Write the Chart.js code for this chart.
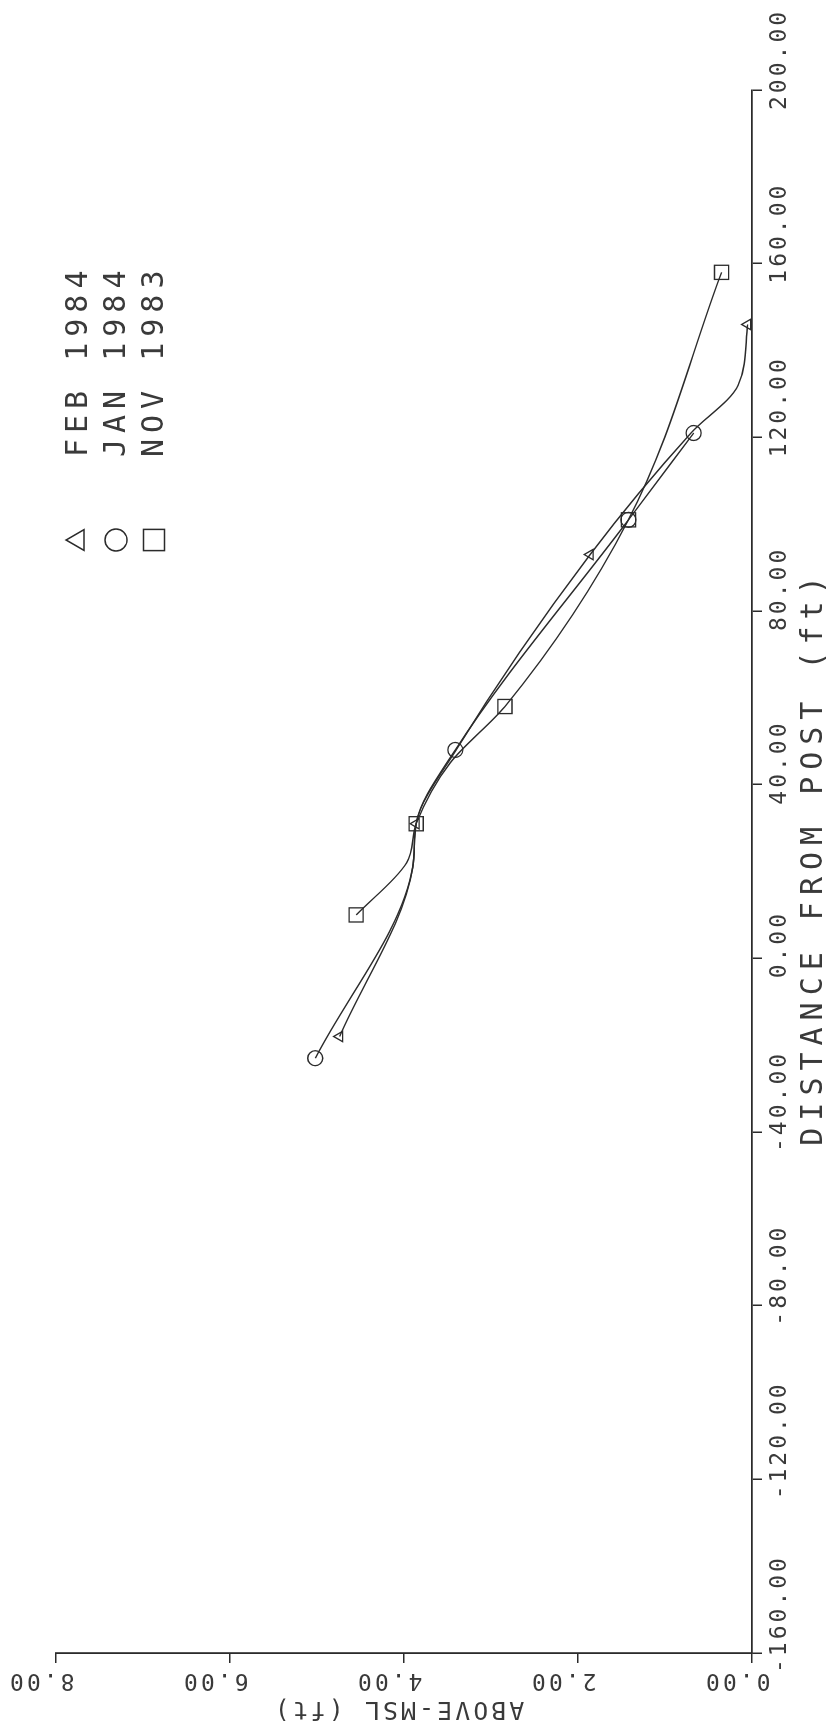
<!DOCTYPE html>
<html>
<head>
<meta charset="utf-8">
<title>POST NO. 7</title>
<script src="https://cdn.jsdelivr.net/npm/chart.js@4.4.0/dist/chart.umd.min.js"></script>
<style>
    html, body { margin: 0; padding: 0; background: #fff; overflow: hidden; }
    /* o gráfico original foi digitalizado girado 90° (anti-horário) */
    #wrap {
        position: absolute;
        left: 0;
        top: 0;
        width: 1734px;
        height: 830px;
        transform-origin: 0 0;
        transform: translateY(1734px) rotate(-90deg);
    }
</style>
</head>
<body>
<div id="wrap"><canvas id="profile" width="1734" height="830"></canvas></div>
<script>
// Perfil de praia - distância do poste x cota acima do nível médio do mar

// Eixos
const distTicks = [-160, -120, -80, -40, 0, 40, 80, 120, 160, 200];
const elevTicks = [0, 2, 4, 6, 8];
const xTitle = 'DISTANCE FROM POST (ft)';
const yTitle = 'ABOVE-MSL (ft)';
const seriesLabels = ['FEB 1984', 'JAN 1984', 'NOV 1983'];

// FEB 1984 (triângulos), marked = tem símbolo
const febDist = [-18, 21, 31, 48, 93, 121, 132, 146];
const febElev = [4.74, 3.90, 3.86, 3.40, 1.86, 0.70, 0.16, 0.05];
const febMarked = [true, false, true, false, true, false, false, true];

// JAN 1984 (círculos)
const janDist = [-23, 21, 31, 48, 101, 121];
const janElev = [5.02, 3.90, 3.86, 3.41, 1.42, 0.67];
const janMarked = [true, false, false, true, true, true];

// NOV 1983 (quadrados)
const novDist = [10, 22, 31, 45, 58, 101, 158];
const novElev = [4.55, 3.97, 3.86, 3.47, 2.84, 1.42, 0.35];
const novMarked = [true, false, true, false, true, true, true];

const inkColor = '#2b2b2b';
const textColor = '#3a3a3a';
const fontFamily = '"DejaVu Sans Mono", "Liberation Mono", monospace';

/**
 * Monta um dataset de linha a partir das listas de distância e cota
 */
function makeSeries(label, dist, elev, marked, style, radius) {
    return {
        label: label,
        data: dist.map((d, i) => ({ x: d, y: elev[i] })),
        borderColor: inkColor,
        borderWidth: 1.4,
        backgroundColor: 'rgba(0,0,0,0)',
        pointStyle: style,
        pointRadius: ctx => marked[ctx.dataIndex] ? radius : 0,
        pointBorderColor: inkColor,
        pointBorderWidth: 1.3,
        pointBackgroundColor: 'rgba(255,255,255,0)',
        cubicInterpolationMode: 'monotone',
        fill: false,
        clip: false
    };
}

// Títulos dos eixos e legenda desenhados à mão (fonte de plotter, espaçada)
const plotTexts = {
    id: 'plotTexts',
    beforeDraw(chart) {
        chart.ctx.letterSpacing = '3px';
    },
    afterDraw(chart) {
        const ctx = chart.ctx;
        const area = chart.chartArea;
        ctx.save();
        ctx.fillStyle = textColor;
        ctx.textBaseline = 'middle';

        // título do eixo X
        ctx.font = '30px ' + fontFamily;
        ctx.letterSpacing = '7px';
        ctx.textAlign = 'center';
        ctx.fillText(xTitle, (area.left + area.right) / 2 + 14, 814);

        // título do eixo Y (vertical)
        ctx.save();
        ctx.font = '25px ' + fontFamily;
        ctx.letterSpacing = '3px';
        ctx.translate(25, (area.top + area.bottom) / 2 - 6);
        ctx.rotate(-Math.PI / 2);
        ctx.fillText(yTitle, 0, 0);
        ctx.restore();

        // legenda
        const rowY = [78, 116, 154];
        const sizes = [12, 11, 15];
        ctx.font = '30px ' + fontFamily;
        ctx.letterSpacing = '6px';
        ctx.textAlign = 'left';
        chart.data.datasets.forEach((ds, i) => {
            ctx.strokeStyle = inkColor;
            ctx.fillStyle = 'rgba(255,255,255,0)';
            ctx.lineWidth = 1.5;
            Chart.helpers.drawPoint(ctx, {
                pointStyle: ds.pointStyle,
                radius: sizes[i],
                rotation: 0,
                borderWidth: 1.5
            }, 1194, rowY[i]);
            ctx.fillStyle = textColor;
            ctx.fillText(ds.label, 1277, rowY[i] + 1);
        });
        ctx.restore();
    }
};

const ctx = document.getElementById('profile').getContext('2d');
new Chart(ctx, {
    type: 'line',
    data: {
        datasets: [
            makeSeries(seriesLabels[0], febDist, febElev, febMarked, 'triangle', 6),
            makeSeries(seriesLabels[1], janDist, janElev, janMarked, 'circle', 7.5),
            makeSeries(seriesLabels[2], novDist, novElev, novMarked, 'rect', 10)
        ]
    },
    options: {
        responsive: false,
        animation: false,
        layout: {
            padding: { top: 56, right: 90, bottom: 0, left: 0 }
        },
        scales: {
            x: {
                type: 'linear',
                position: 'bottom',
                min: distTicks[0],
                max: distTicks[distTicks.length - 1],
                afterBuildTicks: s => { s.ticks = distTicks.map(v => ({ value: v })); },
                afterFit: s => { s.height = 78; s.paddingLeft = 0; s.paddingRight = 0; },
                ticks: {
                    autoSkip: false,
                    maxRotation: 0,
                    minRotation: 0,
                    align: 'start',
                    labelOffset: -20,
                    padding: 4,
                    color: textColor,
                    font: { family: fontFamily, size: 23 },
                    callback: v => Number(v).toFixed(2)
                },
                grid: {
                    drawOnChartArea: false,
                    drawTicks: true,
                    tickLength: 10,
                    color: inkColor,
                    lineWidth: 1.5
                },
                border: { display: true, color: inkColor, width: 1.8 }
            },
            y: {
                type: 'linear',
                position: 'left',
                min: elevTicks[0],
                max: elevTicks[elevTicks.length - 1],
                afterBuildTicks: s => { s.ticks = elevTicks.map(v => ({ value: v })); },
                afterFit: s => { s.width = 81; s.paddingTop = 0; s.paddingBottom = 0; },
                ticks: {
                    autoSkip: false,
                    minRotation: 90,
                    maxRotation: 90,
                    crossAlign: 'near',
                    labelOffset: -49,
                    padding: 17,
                    color: textColor,
                    font: { family: fontFamily, size: 23 },
                    callback: v => Number(v).toFixed(2)
                },
                grid: {
                    drawOnChartArea: false,
                    drawTicks: true,
                    tickLength: 10,
                    color: inkColor,
                    lineWidth: 1.5
                },
                border: { display: true, color: inkColor, width: 1.8 }
            }
        },
        plugins: {
            legend: { display: false },
            tooltip: { enabled: false },
            title: { display: false }
        }
    },
    plugins: [plotTexts]
});
</script>
</body>
</html>
